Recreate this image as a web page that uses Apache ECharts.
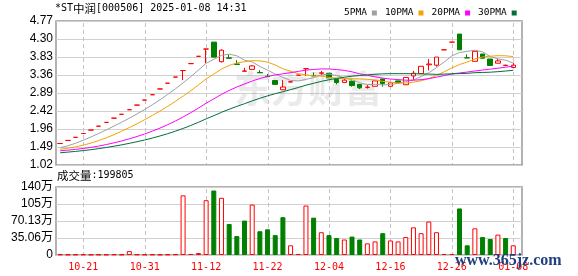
<!DOCTYPE html>
<html><head><meta charset="utf-8">
<script src="https://cdn.jsdelivr.net/npm/echarts@6/dist/echarts.min.js"></script>
<style>html,body{margin:0;padding:0;background:#fff}#c{width:578px;height:276px}</style>
</head><body><div id="c"></div>
<script>
// ---------- data ----------
const dates = ['10-16','10-17','10-18','10-21','10-22','10-23','10-24','10-25','10-28','10-29','10-30','10-31',
'11-01','11-04','11-05','11-06','11-07','11-08','11-11','11-12','11-13','11-14','11-15','11-18','11-19','11-20','11-21','11-22','11-25','11-26','11-27','11-28','11-29',
'12-02','12-03','12-04','12-05','12-06','12-09','12-10','12-11','12-12','12-13','12-16','12-17','12-18','12-19','12-20','12-23','12-24','12-25','12-26','12-27','12-30','12-31',
'01-02','01-03','01-06','01-07','01-08'];
const opens  = [1.58,1.66,1.74,1.84,1.93,2.03,2.13,2.24,2.34,2.46,2.58,2.71,2.85,3.00,3.15,3.31,3.48,3.66,3.85,4.04,
                4.22,3.71,3.81,3.65,3.46,3.51,3.43,3.33,3.22,2.98,3.18,3.36,3.53,3.35,3.41,3.41,3.25,3.17,3.20,3.12,
                3.04,3.07,3.26,3.07,3.21,3.11,3.34,3.40,3.63,3.62,4.02,4.22,4.43,3.81,3.72,3.91,3.78,3.67,3.61,3.56];
const closes = [1.58,1.66,1.74,1.84,1.93,2.03,2.13,2.24,2.34,2.46,2.58,2.71,2.85,3.00,3.15,3.31,3.48,3.66,3.85,4.04,
                3.83,4.01,3.80,3.64,3.47,3.60,3.42,3.32,3.12,3.05,3.19,3.36,3.53,3.34,3.42,3.29,3.17,3.23,3.09,3.03,
                3.05,3.21,3.14,3.16,3.16,3.30,3.41,3.59,3.65,3.83,4.02,4.22,4.02,3.81,3.98,3.80,3.61,3.73,3.62,3.62];
const lows   = [1.58,1.66,1.74,1.84,1.93,2.03,2.13,2.24,2.34,2.46,2.58,2.71,2.85,3.00,3.15,3.31,3.23,3.66,3.85,3.67,
                3.83,3.69,3.80,3.64,3.46,3.49,3.42,3.32,3.12,2.98,3.17,3.36,3.34,3.34,3.36,3.29,3.12,3.17,3.06,3.00,
                3.01,3.07,3.06,3.06,3.16,3.11,3.23,3.40,3.48,3.58,4.02,4.22,4.02,3.81,3.72,3.80,3.61,3.67,3.61,3.56];
const highs  = [1.58,1.66,1.74,1.84,1.93,2.03,2.13,2.24,2.34,2.46,2.58,2.71,2.85,3.00,3.15,3.31,3.48,3.66,3.85,4.04,
                4.22,4.03,3.90,3.75,3.55,3.62,3.49,3.39,3.22,3.23,3.20,3.36,3.53,3.43,3.47,3.41,3.25,3.26,3.22,3.12,
                3.10,3.21,3.26,3.18,3.21,3.30,3.47,3.59,3.78,3.83,4.02,4.22,4.43,3.90,3.98,3.91,3.78,3.78,3.63,3.68];
const volumes = [12000,9000,10000,11000,8000,10000,9000,13000,10000,80000,
                 12000,10000,11000,9000,12000,15000,1230000,20000,40000,1130000,
                 1330000,1180000,640000,390000,710000,1040000,490000,530000,410000,780000,
                 200000,20000,1020000,770000,470000,410000,350000,320000,380000,320000,
                 240000,280000,450000,300000,280000,370000,570000,450000,690000,470000,
                 20000,20000,960000,200000,550000,370000,330000,420000,350000,199805];
// closes before the first visible day (needed for the moving averages)
const preCloses = [1.18,1.19,1.20,1.21,1.22,1.24,1.25,1.27,1.28,1.32,
                   1.34,1.36,1.35,1.37,1.36,1.35,1.34,1.36,1.35,1.36,
                   1.38,1.39,1.40,1.39,1.385,1.40,1.42,1.44,1.51];
const maNames = ['5PMA','10PMA','20PMA','30PMA'];
const maPeriods = [5,10,20,30];
const priceTicks = ['1.02','1.49','1.96','2.42','2.89','3.36','3.83','4.30','4.77'];
const volTicks = ['0','35.06万','70.13万','105万','140万'];
const dateTicks = ['10-21','10-31','11-12','11-22','12-04','12-16','12-26','01-08'];
const titleCode = '*ST';
const titleName = '中润';
const titleRest = '[000506] 2025-01-08 14:31';

// ---------- build ----------
const pMin = 1.02, pMax = 4.77, pInt = (pMax - pMin) / 8;
const vMax = 1402500, vInt = vMax / 4;
const RED = '#ff0000', GREEN = '#008000';
const maColors = ['#a0a0a0', '#f5a300', '#ff00ff', '#00703a'];

const all = preCloses.concat(closes);
function ma(n) {
  return closes.map((_, i) => {
    const end = preCloses.length + i;
    let s = 0;
    for (let k = end - n + 1; k <= end; k++) s += all[k];
    return +(s / n).toFixed(4);
  });
}
const kData = opens.map((o, i) => [o, closes[i], lows[i], highs[i]]);
const volData = volumes.map((v, i) => {
  const prev = i === 0 ? preCloses[preCloses.length - 1] : closes[i - 1];
  const up = closes[i] >= prev;
  return { value: v, itemStyle: up ? { color: '#fff', borderColor: RED, borderWidth: 1 } : { color: GREEN, borderColor: GREEN, borderWidth: 1 } };
});
const showLabel = (idx) => dateTicks.indexOf(dates[idx]) >= 0;

// layout
const frameL = 56, frameW = 466;
const mainTop = 21, mainH = 144, volTop = 187, volH = 68;
const dataLeft = 56.4, dataWidth = 460.7;

const textGraphics = [
  { type: 'text', left: 55, top: 3, z: 10,
    style: { text: '{a|' + titleCode + '}{b|' + titleName + '}{a|' + titleRest + '}', fill: '#000',
      rich: { a: { fontFamily: 'DejaVu Sans Mono', fontSize: 10, fill: '#000' }, b: { fontFamily: 'Noto Sans CJK SC', fontSize: 11.5, fill: '#000' } } } },
  { type: 'text', left: 57, top: 170, z: 10,
    style: { text: '{c|成交量}{d|:' + volumes[volumes.length - 1] + '}', fill: '#000',
      rich: { c: { fontFamily: 'Noto Sans CJK SC', fontSize: 11.5, fill: '#000' }, d: { fontFamily: 'DejaVu Sans Mono', fontSize: 10, fill: '#000' } } } },
  { type: 'text', left: 234, top: 70, z: 1, silent: true,
    style: { text: '东方财富', fill: 'rgba(150,150,150,0.2)', fontFamily: 'Noto Sans CJK SC', fontWeight: 'bold', fontSize: 37 } },
  { type: 'text', left: 455, top: 253, z: 20, silent: true,
    style: { text: 'www.365jz.com', fill: '#1f3f7e', fontFamily: 'Liberation Serif', fontWeight: 'bold', fontSize: 16 } }
];

const chart = echarts.init(document.getElementById('c'), null, { renderer: 'canvas' });
chart.setOption({
  animation: false,
  backgroundColor: '#fff',
  legend: {
    data: maNames, left: 339, top: 3, align: 'right', icon: 'rect', itemWidth: 5, itemHeight: 5, itemGap: 8,
    selectedMode: false,
    textStyle: { fontFamily: 'DejaVu Sans Mono', fontSize: 9.5, color: '#000' }
  },
  grid: [
    { left: frameL, top: mainTop, width: frameW, height: mainH, show: true, borderColor: '#999', borderWidth: 1.5, backgroundColor: 'transparent' },
    { left: dataLeft, top: mainTop, width: dataWidth, height: mainH },
    { left: frameL, top: volTop, width: frameW, height: volH, show: true, borderColor: '#999', borderWidth: 1.5, backgroundColor: 'transparent' },
    { left: dataLeft, top: volTop, width: dataWidth, height: volH }
  ],
  xAxis: [
    { gridIndex: 0, type: 'value', min: 0, max: 1, show: false },
    { gridIndex: 1, type: 'category', data: dates, boundaryGap: true, axisLine: { show: false }, axisTick: { show: false },
      axisLabel: { show: false }, splitLine: { show: false } },
    { gridIndex: 2, type: 'value', min: 0, max: 1, show: false },
    { gridIndex: 3, type: 'category', data: dates, boundaryGap: true, axisLine: { show: false }, axisTick: { show: false },
      axisLabel: { show: true, interval: showLabel, color: RED, fontFamily: 'DejaVu Sans Mono', fontSize: 10, margin: 7, hideOverlap: false },
      splitLine: { show: false } }
  ],
  yAxis: [
    { gridIndex: 0, type: 'value', min: pMin, max: pMax, interval: pInt, axisLine: { show: false }, axisTick: { show: false },
      axisLabel: { color: '#000', fontFamily: 'Liberation Sans', fontSize: 12, margin: 3,
        formatter: (v) => priceTicks[Math.round((v - pMin) / pInt)] || '' },
      splitLine: { show: true, lineStyle: { color: '#d0d0d0', width: 1 } } },
    { gridIndex: 1, type: 'value', min: pMin, max: pMax, show: false, splitLine: { show: false } },
    { gridIndex: 2, type: 'value', min: 0, max: vMax, interval: vInt, axisLine: { show: false }, axisTick: { show: false },
      axisLabel: { color: '#000', fontFamily: 'Liberation Sans, Noto Sans CJK SC', fontSize: 12, margin: 3,
        formatter: (v) => volTicks[Math.round(v / vInt)] || '' },
      splitLine: { show: true, lineStyle: { color: '#d0d0d0', width: 1 } } },
    { gridIndex: 3, type: 'value', min: 0, max: vMax, show: false, splitLine: { show: false } }
  ],
  graphic: textGraphics,
  series: [
    { type: 'candlestick', name: 'K', xAxisIndex: 1, yAxisIndex: 1, data: kData, barWidth: 5,
      itemStyle: { color: '#fff', color0: GREEN, borderColor: RED, borderColor0: GREEN, borderWidth: 1 } }
  ].concat(maNames.map((n, k) => ({
    type: 'line', name: n, xAxisIndex: 1, yAxisIndex: 1, data: ma(maPeriods[k]), showSymbol: false, symbol: 'none',
    lineStyle: { width: 1, color: maColors[k] }, itemStyle: { color: maColors[k] }, z: 3
  }))).concat([
    { type: 'bar', name: 'VOL', xAxisIndex: 3, yAxisIndex: 3, data: volData, barWidth: 5 }
  ])
});

// dashed vertical guide lines at the labelled dates, positioned through the chart's own category scale
try {
  const segs = [];
  [[1, mainTop, mainTop + mainH], [3, volTop, volTop + volH]].forEach(([xi, top, bottom]) => {
    dateTicks.forEach(d => {
      const px = chart.convertToPixel({ xAxisIndex: xi }, d);
      if (px == null || isNaN(px)) return;
      const x = Math.round(px) + 0.5;
      for (let y = top + 2; y < bottom - 1; y += 7) {
        segs.push({ type: 'line', silent: true, z: 1,
          shape: { x1: x, y1: y, x2: x, y2: Math.min(y + 4, bottom - 1) },
          style: { stroke: '#c4c4c4', lineWidth: 1 } });
      }
    });
  });
  chart.setOption({ graphic: textGraphics.concat(segs) });
} catch (e) { /* keep chart without guides */ }
</script></body></html>
